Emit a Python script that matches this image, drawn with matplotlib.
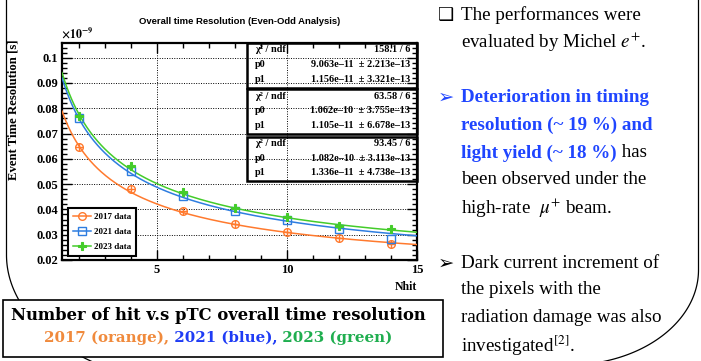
import numpy as np
import matplotlib
matplotlib.use('Agg')
import matplotlib.pyplot as plt
from matplotlib.lines import Line2D
from matplotlib.patches import Rectangle
from matplotlib.ticker import MultipleLocator

W, H = 701, 361

# data (values in units of 1e-9 s)
nhit = [2, 4, 6, 8, 10, 12, 14]
res_2017 = [0.0645, 0.0482, 0.0394, 0.0344, 0.0309, 0.0286, 0.0265]
res_2021 = [0.0761, 0.0552, 0.0454, 0.0394, 0.0358, 0.0323, 0.0282]
res_2023 = [0.0769, 0.0572, 0.0468, 0.0406, 0.0369, 0.0336, 0.0321]

# fit results shown in the stat boxes: sqrt(p0^2/N + p1^2)
fit_p0 = [9.063e-11, 1.062e-10, 1.082e-10]
fit_p1 = [1.156e-11, 1.105e-11, 1.336e-11]
fit_chi2 = ['158.1 / 6', '63.58 / 6', '93.45 / 6']
fit_p0_txt = ['9.063e\u201311  \u00b1 2.213e\u201313', '1.062e\u201310  \u00b1 3.755e\u201313',
              '1.082e\u201310  \u00b1 3.113e\u201313']
fit_p1_txt = ['1.156e\u201311  \u00b1 3.321e\u201313', '1.105e\u201311  \u00b1 6.678e\u201313',
              '1.336e\u201311  \u00b1 4.738e\u201313']

labels = ['2017 data', '2021 data', '2023 data']
colors = ['#ff7a2e', '#2e7de0', '#44cc2a']

plt.rcParams['font.family'] = ['Liberation Serif', 'DejaVu Sans']
plt.rcParams['mathtext.fontset'] = 'stix'

fig = plt.figure(figsize=(W / 100, H / 100), dpi=100)
fig.patch.set_facecolor('white')


def fx(x):
    return x / W


def fy(y):
    return 1 - y / H


# ---- slide decorations (rounded panel borders)
t = np.linspace(0, np.pi / 2, 100)
lx = [6.5, 6.5] + list(206.5 - 200 * np.cos(t))
ly = [0, 255] + list(255 + 130 * np.sin(t))
fig.add_artist(Line2D([fx(v) for v in lx], [fy(v) for v in ly], color='k', lw=0.9))
rx = [698.5, 698.5] + list(568.5 + 130 * np.cos(t))
ry = [0, 270] + list(270 + 95 * np.sin(t))
fig.add_artist(Line2D([fx(v) for v in rx], [fy(v) for v in ry], color='k', lw=0.9))

# ---- main plot
ax = fig.add_axes([fx(62), fy(260), (417 - 62) / W, (260 - 43) / H])
ax.set_facecolor('none')

xs = np.linspace(1.35, 15, 300)
for p0, p1, c in zip(fit_p0, fit_p1, colors):
    ax.plot(xs, np.sqrt(p0 ** 2 / xs + p1 ** 2) * 1e9, color=c, lw=1.1, zorder=3)

ax.plot(nhit, res_2017, 'o', ms=5.5, mfc='none', mec=colors[0], mew=1.0, zorder=4)
ax.plot(nhit, res_2017, '+', ms=5.5, mec=colors[0], mew=1.0, zorder=4)
ax.plot(nhit, res_2021, 's', ms=5.5, mfc='none', mec=colors[1], mew=1.0, zorder=4)
ax.plot(nhit, res_2023, 'P', ms=6, color=colors[2], mec=colors[2], mew=0.8, zorder=5)

ax.set_xlim(1.35, 15)
ax.set_ylim(0.02, 0.1058)
ax.xaxis.set_major_locator(MultipleLocator(5))
ax.xaxis.set_minor_locator(MultipleLocator(1))
ax.yaxis.set_major_locator(MultipleLocator(0.01))
ax.yaxis.set_minor_locator(MultipleLocator(0.002))
ax.tick_params(which='both', direction='in', top=True, right=True, width=1.0)
ax.tick_params(which='major', length=7)
ax.tick_params(which='minor', length=3.5)
ax.tick_params(axis='y', labelsize=9, pad=3)
ax.tick_params(axis='x', labelsize=9, pad=3)
ax.set_yticks([0.02, 0.03, 0.04, 0.05, 0.06, 0.07, 0.08, 0.09, 0.1])
ax.set_yticklabels(['0.02', '0.03', '0.04', '0.05', '0.06', '0.07', '0.08', '0.09', '0.1'])
ax.set_xticks([5, 10, 15])
for lab in ax.get_xticklabels() + ax.get_yticklabels():
    lab.set_fontweight('bold')
ax.grid(True, which='major', ls=(0, (1, 1.5)), color='k', lw=0.7)
for s in ax.spines.values():
    s.set_linewidth(1.6)

# legend
handles = [
    Line2D([], [], color=colors[0], marker='o', ms=5.5, mfc='none', mew=1.0, lw=1.1),
    Line2D([], [], color=colors[1], marker='s', ms=5.5, mfc='none', mew=1.0, lw=1.1),
    Line2D([], [], color=colors[2], marker='P', ms=6, mew=0.8, lw=1.1),
]
leg = ax.legend(handles, labels, loc='lower left',
                bbox_to_anchor=((68 - 62) / 355, (260 - 256) / 217),
                prop={'family': 'Liberation Serif', 'weight': 'bold', 'size': 6.5},
                frameon=True, fancybox=False, framealpha=1, edgecolor='k',
                handlelength=2.0, handletextpad=0.4, borderpad=0.5, labelspacing=0.75,
                borderaxespad=0)
leg.get_frame().set_linewidth(1.5)

# stat boxes
box_tops = [43, 89.5, 136.5]
for i in range(3):
    top = box_tops[i]
    fig.add_artist(Rectangle((fx(247), fy(top + 44.5)), (417 - 247) / W, 44.5 / H,
                             fill=False, ec='k', lw=1.8, transform=fig.transFigure))
    rows = [('\u03c7\u00b2 / ndf', fit_chi2[i]), ('p0', fit_p0_txt[i]), ('p1', fit_p1_txt[i])]
    for j, (l, r) in enumerate(rows):
        yy = top + 7 + j * 14.5
        fig.text(fx(255), fy(yy), l, fontsize=7.4, fontweight='bold', va='center', ha='left')
        fig.text(fx(410), fy(yy), r, fontsize=7.4, fontweight='bold', va='center', ha='right')

fig.text(fx(240), fy(21), 'Overall time Resolution (Even-Odd Analysis)', family='Liberation Sans',
         fontweight='bold', fontsize=6.8, ha='center', va='center')
fig.text(fx(61), fy(41), r'$\mathbf{\times 10^{-9}}$', fontsize=8.5, ha='left', va='bottom')
fig.text(fx(14), fy(110), 'Event Time Resolution [s]', fontweight='bold', fontsize=9.2,
         rotation=90, ha='center', va='center')
fig.text(fx(417), fy(287), 'Nhit', fontweight='bold', fontsize=8.5, ha='right', va='center')

# ---- caption box
fig.add_artist(Rectangle((fx(3), fy(357)), 440 / W, 57 / H, fc='white', ec='k', lw=1.2,
                         transform=fig.transFigure, zorder=5))
fig.text(fx(218), fy(316), 'Number of hit v.s pTC overall time resolution', family='DejaVu Serif',
         fontweight='bold', fontsize=11.8, ha='center', va='center', zorder=6)

renderer = fig.canvas.get_renderer()
cap_segs = [('2017 (orange),', '#f08a3c'), (' 2021 (blue),', '#1f3cf5'), (' 2023 (green)', '#1fae4f')]
cap_texts = []
total = 0
for s, c in cap_segs:
    tt = fig.text(0, fy(338), s, family='DejaVu Serif', fontweight='bold', fontsize=10.8,
                  color=c, ha='left', va='center', zorder=6)
    wdt = tt.get_window_extent(renderer=renderer).width
    cap_texts.append((tt, wdt))
    total += wdt
x0 = 218 - total / 2
for tt, wdt in cap_texts:
    tt.set_x(fx(x0))
    x0 += wdt

# ---- right-hand bullet text
blue = '#1f45ff'
fs = 13.7
fig.text(fx(438), fy(15), '\u2751', family='DejaVu Sans', fontweight='bold', fontsize=13,
         ha='left', va='center')
fig.text(fx(438), fy(97), '\u27a2', family='DejaVu Sans', fontsize=14, color=blue, ha='left', va='center')
fig.text(fx(438), fy(263), '\u27a2', family='DejaVu Sans', fontsize=14, ha='left', va='center')

text_lines = [
    (15, [('The performances were', 'k', 'normal')]),
    (42, [(r'evaluated by Michel $e^{+}$.', 'k', 'normal')]),
    (97, [('Deterioration in timing', blue, 'bold')]),
    (125, [('resolution (~ 19 %) and', blue, 'bold')]),
    (153, [('light yield (~ 18 %)', blue, 'bold'), (' has', 'k', 'normal')]),
    (180, [('been observed under the', 'k', 'normal')]),
    (208, [(r'high-rate  $\mu^{+}$ beam.', 'k', 'normal')]),
    (263, [('Dark current increment of', 'k', 'normal')]),
    (290, [('the pixels with the', 'k', 'normal')]),
    (318, [('radiation damage was also', 'k', 'normal')]),
    (346, [(r'investigated$^{[2]}$.', 'k', 'normal')]),
]
for yy, segs in text_lines:
    xx = 461
    for s, c, wt in segs:
        tt = fig.text(fx(xx), fy(yy), s, fontsize=fs, color=c, fontweight=wt, ha='left', va='center')
        xx += tt.get_window_extent(renderer=renderer).width

fig.savefig('out.png', dpi=100, facecolor='white')
